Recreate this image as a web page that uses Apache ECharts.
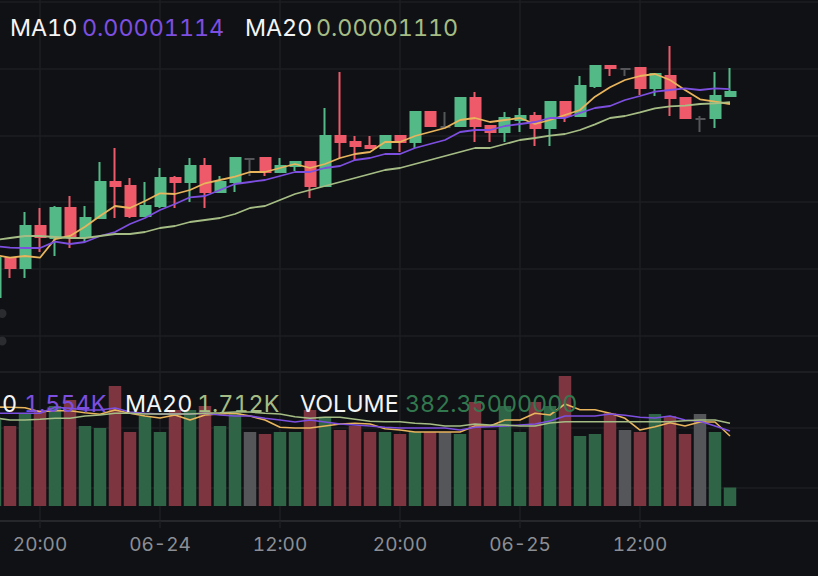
<!DOCTYPE html>
<html>
<head>
<meta charset="utf-8">
<title>kline</title>
<style>
html,body{margin:0;padding:0;background:#101114;}
#chart{width:818px;height:576px;}
/* zrender writes the font shorthand inline, so this needs important */
#chart text{font-variant-numeric:tabular-nums !important;}
</style>
<script src="https://cdn.jsdelivr.net/npm/echarts@6/dist/echarts.min.js"></script>
</head>
<body>
<div id="chart"></div>
<script>
// prices are in units of 0.00000001
var openValues = [1051.55,1063.25,1060.25,1072.85,1069.25,1078.25,1069.85,1075.25,1086.05,1084.85,1075.85,1078.85,1087.25,1086.05,1090.85,1083.05,1086.05,1092.95,1093.25,1089.05,1090.85,1092.05,1084.85,1099.85,1098.05,1096.85,1096.25,1099.85,1098.05,1107.05,1102.55,1102.85,1111.25,1102.85,1101.05,1104.65,1105.85,1102.25,1110.05,1105.85,1114.85,1120.85,1119.95,1120.25,1114.25,1117.85,1111.25,1104.95,1105.25,1111.85];
var closeValues = [1063.25,1060.25,1072.85,1069.55,1078.25,1069.55,1075.25,1086.05,1084.85,1075.85,1078.85,1087.25,1086.05,1090.85,1083.05,1086.05,1093.25,1092.95,1089.05,1090.85,1092.05,1084.85,1099.85,1098.05,1096.85,1096.25,1099.85,1098.05,1107.05,1102.85,1102.55,1111.25,1102.85,1101.05,1105.25,1105.85,1102.25,1110.05,1105.85,1114.85,1120.85,1120.25,1119.95,1114.25,1118.45,1111.25,1105.25,1104.95,1111.85,1113.05];
var lowValues = [1051.55,1057.25,1057.25,1065.05,1063.85,1066.25,1068.05,1075.25,1075.25,1075.25,1075.85,1078.25,1078.25,1080.05,1078.25,1083.05,1083.05,1087.85,1087.85,1089.05,1089.35,1081.25,1084.85,1093.25,1092.65,1096.25,1096.25,1095.05,1096.25,1102.85,1102.55,1102.85,1098.05,1098.05,1098.05,1101.05,1096.85,1096.85,1104.05,1105.85,1114.25,1117.85,1117.85,1112.15,1111.85,1105.85,1105.25,1101.05,1102.25,1111.85];
var highValues = [1063.25,1063.25,1077.05,1078.25,1078.85,1081.85,1078.85,1092.05,1096.25,1087.25,1086.05,1090.25,1087.85,1093.25,1093.25,1087.85,1093.25,1093.1,1093.25,1093.25,1092.05,1092.05,1108.25,1119.05,1099.85,1099.85,1099.85,1099.85,1107.05,1107.05,1107.05,1111.25,1113.05,1102.85,1107.05,1108.25,1107.05,1110.05,1110.05,1117.85,1120.85,1120.85,1120.1,1120.25,1118.45,1126.85,1111.25,1105.85,1119.05,1120.25];

var priceMa5 = [1064.15,1063.34,1063.85,1063.34,1068.95,1069.85,1072.64,1075.85,1078.85,1078.25,1080.35,1082.66,1082.45,1083.65,1085.66,1086.65,1087.64,1089.05,1089.05,1090.25,1091.45,1090.25,1091.45,1093.25,1094.45,1095.05,1098.05,1098.05,1099.85,1101.05,1102.25,1104.65,1105.25,1104.05,1104.65,1105.25,1103.45,1104.65,1106.15,1107.65,1111.64,1114.46,1116.65,1117.85,1118.45,1116.65,1113.65,1110.86,1110.14,1109.45];
var priceMa10 = [1066.85,1066.34,1066.25,1066.25,1068.14,1067.45,1068.05,1069.85,1071.05,1073.45,1075.25,1077.65,1079.45,1081.46,1081.85,1083.65,1085.45,1086.05,1086.65,1087.85,1089.05,1089.05,1090.25,1090.85,1092.65,1093.25,1094.45,1094.45,1096.25,1097.45,1098.65,1101.05,1101.65,1101.65,1102.85,1103.45,1104.05,1105.25,1105.25,1106.75,1108.25,1108.85,1110.65,1111.85,1113.14,1113.65,1114.16,1113.65,1114.16,1113.9];
var priceMa20 = [1068.65,1069.25,1069.85,1069.85,1069.55,1069.25,1069.25,1069.85,1070.45,1070.45,1071.05,1072.25,1072.85,1074.05,1074.65,1075.25,1076.45,1078.25,1078.85,1080.65,1082.45,1083.65,1084.85,1086.05,1087.25,1088.45,1089.65,1090.25,1091.45,1092.65,1093.85,1095.05,1096.25,1096.25,1097.45,1098.65,1099.25,1099.94,1100.45,1101.65,1103.36,1105.25,1105.85,1106.96,1108.16,1108.76,1108.94,1109.45,1109.66,1110];

var volumeValues = [1780,1656,1904,1987,2070,2194,1656,1615,2484,1532,1863,1532,1987,1987,2070,1656,1925,1532,1490,1532,1532,1987,1849,1573,1656,1532,1532,1490,1532,1532,1532,1490,2153,1573,2070,1532,2153,2070,2691,1449,1490,1925,1573,1532,1904,1863,1490,1904,1532,382.35];
var volumeMa5 = [2049,2043,2035,1952,1973,1973,1931,1898,1987,1919,1863,1822,1884,1780,1884,1904,1919,1863,1780,1629,1615,1615,1656,1697,1712,1697,1600,1573,1532,1532,1532,1532,1656,1656,1780,1780,1919,1884,2111,1993,1993,1919,1815,1573,1642,1724,1656,1739,1739,1449];
var volumeMa10 = [1919,1919,1919,1919,2043,2022,1987,1987,2029,1946,1919,1904,1904,1904,1919,1884,1863,1863,1815,1780,1739,1780,1739,1697,1677,1656,1629,1615,1615,1615,1615,1573,1629,1642,1656,1677,1697,1760,1863,1863,1863,1904,1877,1836,1822,1863,1780,1753,1656,1554];
var volumeMa20 = [1822,1780,1780,1795,1815,1815,1863,1884,1919,1919,1904,1904,1904,1904,1919,1931,1946,1946,1919,1904,1849,1815,1836,1836,1795,1753,1745,1745,1712,1697,1656,1656,1697,1677,1677,1656,1656,1718,1745,1745,1745,1745,1745,1745,1745,1745,1766,1780,1780,1712];

var tickLabels = ['20:00','06-24','12:00','20:00','06-25','12:00'];
var tickIndexes = [3,11,19,27,35,43];
var priceGridValues = [1040,1060,1080,1100,1120,1140];
var volumeGridValues = [373,1615];

var GREEN = '#53b987', RED = '#ee5a69', GRAY = '#555659';
var MA5_COLOR = '#e8b45c', MA10_COLOR = '#7d4fe0', MA20_COLOR = '#a5bd85';
var GRID_COLOR = '#1c1e22', AXIS_COLOR = '#25272b';

// 57 slots, the last ones stay empty on the right side
var categories = [];
for(var i=0;i<57;i++){
    var t = tickIndexes.indexOf(i);
    categories.push(t>=0?tickLabels[t]:'');
}
function isTick(index){
    return tickIndexes.indexOf(index)>=0;
}

var candleData = [];
var volumeData = [];
for(var i=0;i<openValues.length;i++){
    candleData.push([openValues[i],closeValues[i],lowValues[i],highValues[i]]);
    var barColor = '#2f6446';
    if(closeValues[i]<openValues[i]) barColor = '#7d3640';
    if(closeValues[i]==openValues[i]) barColor = GRAY;
    volumeData.push({value:volumeValues[i],itemStyle:{color:barColor}});
}

function maLine(name,data,color,width,axisIndex){
    return {
        name: name,
        type: 'line',
        data: data,
        xAxisIndex: axisIndex,
        yAxisIndex: axisIndex,
        showSymbol: false,
        silent: true,
        z: 5,
        lineStyle: {color:color,width:width}
    };
}

function label(text,x,y,color){
    return {
        type: 'text',
        x: x,
        y: y,
        z: 100,
        silent: true,
        style: {
            text: text,
            fill: color,
            font: '23.3px Inter',
            textVerticalAlign: 'middle'
        }
    };
}

// the scroll handles cut off at the left edge
function handle(y){
    return {type:'circle',shape:{cx:2,cy:y,r:4.5},z:50,silent:true,style:{fill:'#2a2c2f'}};
}

var myChart = echarts.init(document.getElementById('chart'),null,{renderer:'svg'});
myChart.setOption({
    animation: false,
    backgroundColor: '#101114',
    grid: [
        {left:-5,top:0,width:840,height:372,outerBoundsMode:'none'},
        {left:-5,top:372,width:840,height:149,outerBoundsMode:'none'}
    ],
    xAxis: [
        {
            type: 'category',
            gridIndex: 0,
            data: categories,
            boundaryGap: false,
            axisLine: {show:true,lineStyle:{color:GRID_COLOR,width:2}},
            axisTick: {show:false},
            axisLabel: {show:false},
            splitLine: {show:true,interval:function(index){return isTick(index);},lineStyle:{color:GRID_COLOR,width:1.5}}
        },
        {
            type: 'category',
            gridIndex: 1,
            data: categories,
            boundaryGap: false,
            axisLine: {show:true,onZero:false,lineStyle:{color:AXIS_COLOR,width:2}},
            axisTick: {show:true,length:7,interval:function(index){return isTick(index);},lineStyle:{color:GRID_COLOR,width:1.5}},
            axisLabel: {show:true,interval:function(index){return isTick(index);},color:'#8b8e94',fontSize:19,fontFamily:'Inter',margin:14},
            splitLine: {show:true,interval:function(index){return isTick(index);},lineStyle:{color:GRID_COLOR,width:1.5}}
        }
    ],
    yAxis: [
        {
            type: 'value',
            gridIndex: 0,
            min: 1029.05,
            max: 1140.65,
            axisLine: {show:false},
            axisTick: {show:false,customValues:priceGridValues},
            axisLabel: {show:false},
            splitLine: {show:true,lineStyle:{color:GRID_COLOR,width:1.5}}
        },
        {
            type: 'value',
            gridIndex: 1,
            min: -310.5,
            max: 2773.8,
            axisLine: {show:false},
            axisTick: {show:false,customValues:volumeGridValues},
            axisLabel: {show:false},
            splitLine: {show:true,lineStyle:{color:GRID_COLOR,width:1.5}}
        }
    ],
    series: [
        {
            type: 'candlestick',
            data: candleData,
            xAxisIndex: 0,
            yAxisIndex: 0,
            barWidth: 10.5,
            silent: true,
            itemStyle: {
                color: GREEN,
                color0: RED,
                borderColor: GREEN,
                borderColor0: RED,
                borderColorDoji: GRAY,
                borderWidth: 2
            }
        },
        maLine('MA5',priceMa5,MA5_COLOR,1.8,0),
        maLine('MA10',priceMa10,MA10_COLOR,1.8,0),
        maLine('MA20',priceMa20,MA20_COLOR,1.8,0),
        {
            type: 'bar',
            data: volumeData,
            xAxisIndex: 1,
            yAxisIndex: 1,
            barWidth: 12.5,
            silent: true
        },
        maLine('VOL MA5',volumeMa5,MA5_COLOR,1.6,1),
        maLine('VOL MA10',volumeMa10,MA10_COLOR,1.6,1),
        maLine('VOL MA20',volumeMa20,MA20_COLOR,1.6,1)
    ],
    graphic: [
        handle(313.5),
        handle(341),
        label('MA10',10,27,'#f4f4f5'),
        label('0.00001114',82,27,MA10_COLOR),
        label('MA20',245,27,'#f4f4f5'),
        label('0.00001110',316,27,MA20_COLOR),
        label('0',2,403,'#f4f4f5'),
        label('1.554K',24,403,MA10_COLOR),
        label('MA20',125,403,'#f4f4f5'),
        label('1.712K',197,403,MA20_COLOR),
        label('VOLUME',300,403,'#f4f4f5'),
        label('382.35000000',405,403,'#32784f')
    ]
});
</script>
</body>
</html>
